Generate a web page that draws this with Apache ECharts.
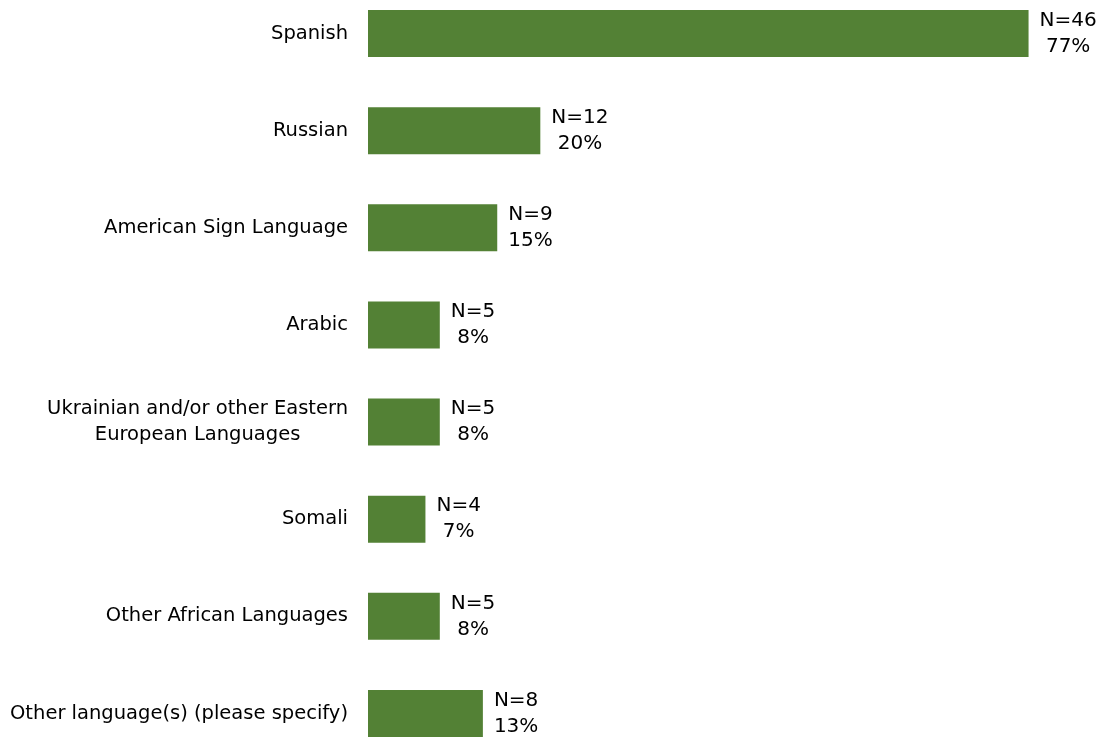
<!DOCTYPE html>
<html>
<head>
<meta charset="utf-8">
<style>
  html, body { margin: 0; padding: 0; background: #ffffff; overflow: hidden; }
  body { position: relative; width: 1102px; height: 738px; }
  /* the plot bleeds a little past the top and bottom edges of the page */
  #chart { position: absolute; left: 0; top: -15px; width: 1102px; height: 777px; }
</style>
<script src="https://cdn.jsdelivr.net/npm/echarts@6/dist/echarts.min.js"></script>
</head>
<body>
<div id="chart"></div>
<script>
// Languages spoken, respondent counts and shares of the 60 respondents
const languages = [
  'Spanish',
  'Russian',
  'American Sign Language',
  'Arabic',
  'Ukrainian and/or other Eastern\nEuropean Languages',
  'Somali',
  'Other African Languages',
  'Other language(s) (please specify)'
];
const counts = [46, 12, 9, 5, 5, 4, 5, 8];
const percents = [77, 20, 15, 8, 8, 7, 8, 13];

const FONT = 'DejaVu Sans';
const chart = echarts.init(document.getElementById('chart'));

chart.setOption({
  animation: false,
  backgroundColor: '#ffffff',
  grid: { left: 368, right: 16, top: 0, bottom: 0, containLabel: false },
  xAxis: {
    type: 'value',
    min: 0,
    max: 50,
    show: false
  },
  yAxis: {
    type: 'category',
    inverse: true,
    data: languages,
    axisLine: { show: false },
    axisTick: { show: false },
    splitLine: { show: false },
    axisLabel: {
      margin: 20,
      color: '#000000',
      fontFamily: FONT,
      fontSize: 19.5,
      formatter: function (v) {
        return v.split('\n').map(function (s) { return '{c|' + s + '}'; }).join('\n');
      },
      rich: {
        c: { align: 'center', fontFamily: FONT, fontSize: 19.5, color: '#000000', lineHeight: 26 }
      }
    }
  },
  series: [{
    type: 'bar',
    data: counts,
    barCategoryGap: '51.6%',
    itemStyle: { color: '#538135' },
    label: {
      show: true,
      position: 'right',
      distance: 11,
      formatter: function (p) {
        return '{c|N=' + counts[p.dataIndex] + '}\n{c|' + percents[p.dataIndex] + '%}';
      },
      rich: {
        c: { align: 'center', fontFamily: FONT, fontSize: 20, color: '#000000', lineHeight: 26 }
      }
    }
  }]
});
</script>
</body>
</html>
